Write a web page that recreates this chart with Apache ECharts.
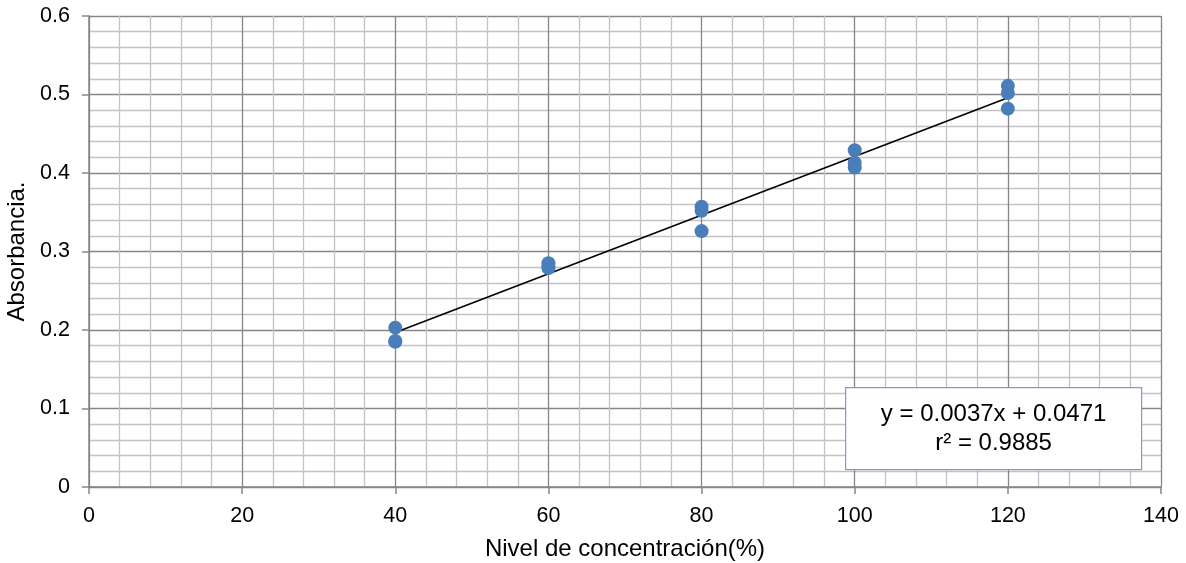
<!DOCTYPE html>
<html>
<head>
<meta charset="utf-8">
<script src="https://cdn.jsdelivr.net/npm/echarts@6/dist/echarts.min.js"></script>
<style>
  html, body { margin: 0; padding: 0; background: #fff; }
  #chart { width: 1186px; height: 563px; }
</style>
</head>
<body>
<div id="chart"></div>
<script>
// Concentration levels (%) and the three absorbance readings taken at each level
const levels = [40, 60, 80, 100, 120];
const readingA = [0.203, 0.285, 0.357, 0.429, 0.511];
const readingB = [0.185, 0.281, 0.352, 0.413, 0.502];
const readingC = [0.186, 0.279, 0.326, 0.407, 0.482];

// Linear calibration fit
const slope = 0.00374;
const intercept = 0.0471;
const rSquared = 0.9885;

const xTicks = [0, 20, 40, 60, 80, 100, 120, 140];
const yTicks = [0, 0.1, 0.2, 0.3, 0.4, 0.5, 0.6];

const points = [];
[readingA, readingB, readingC].forEach(r => {
  levels.forEach((x, i) => points.push([x, r[i]]));
});

const xFirst = levels[0], xLast = levels[levels.length - 1];
const trend = [
  [xFirst, slope * xFirst + intercept],
  [xLast, slope * xLast + intercept]
];

const font = '"Liberation Sans", Arial, sans-serif';
const major = '#868686';
const minor = '#c3c3c3';

const chart = echarts.init(document.getElementById('chart'), null, { renderer: 'canvas' });
chart.setOption({
  animation: false,
  grid: { left: 89, top: 16, right: 25, bottom: 76, containLabel: false, outerBoundsMode: 'none' },
  xAxis: {
    type: 'value',
    min: xTicks[0], max: xTicks[xTicks.length - 1], interval: 20,
    name: 'Nivel de concentración(%)',
    nameLocation: 'middle', nameGap: 50,
    nameTextStyle: { fontFamily: font, fontSize: 24, color: '#000' },
    axisLine: { show: true, lineStyle: { color: major, width: 1.5 } },
    axisTick: { show: true, length: 7, lineStyle: { color: major, width: 1.5 } },
    axisLabel: { fontFamily: font, fontSize: 21.5, color: '#000', margin: 18 },
    splitLine: { show: true, lineStyle: { color: major, width: 1.3 } },
    minorTick: { show: false, splitNumber: 5 },
    minorSplitLine: { show: true, lineStyle: { color: minor, width: 1.3 } }
  },
  yAxis: {
    type: 'value',
    min: yTicks[0], max: yTicks[yTicks.length - 1], interval: 0.1,
    name: 'Absorbancia.',
    nameLocation: 'middle', nameGap: 58,
    nameTextStyle: { fontFamily: font, fontSize: 24, color: '#000' },
    axisLine: { show: true, lineStyle: { color: major, width: 1.5 } },
    axisTick: { show: true, length: 7, lineStyle: { color: major, width: 1.5 } },
    axisLabel: { fontFamily: font, fontSize: 21.5, color: '#000', margin: 19 },
    splitLine: { show: true, lineStyle: { color: major, width: 1.3 } },
    minorTick: { show: false, splitNumber: 5 },
    minorSplitLine: { show: true, lineStyle: { color: minor, width: 1.3 } }
  },
  series: [
    {
      type: 'line',
      data: trend,
      showSymbol: false,
      symbol: 'none',
      lineStyle: { color: '#000', width: 1.6 },
      z: 3
    },
    {
      type: 'scatter',
      data: points,
      symbol: 'circle',
      symbolSize: 14,
      itemStyle: { color: '#4a7ebb', opacity: 1 },
      z: 4
    }
  ],
  graphic: [
    {
      type: 'group',
      left: 845, top: 387,
      z: 100,
      children: [
        {
          type: 'rect',
          z: 100,
          shape: { x: 0, y: 0, width: 296, height: 82 },
          style: { fill: '#ffffff', stroke: '#7f9cc8', lineWidth: 1.2 }
        },
        {
          type: 'text',
          z: 101,
          style: {
            x: 148, y: 41,
            text: 'y = ' + slope.toFixed(4) + 'x + ' + intercept.toFixed(4) + '\nr² = ' + rSquared.toFixed(4),
            font: '24px ' + font,
            fill: '#000',
            align: 'center',
            verticalAlign: 'middle',
            lineHeight: 29
          }
        }
      ]
    }
  ]
});
</script>
</body>
</html>
